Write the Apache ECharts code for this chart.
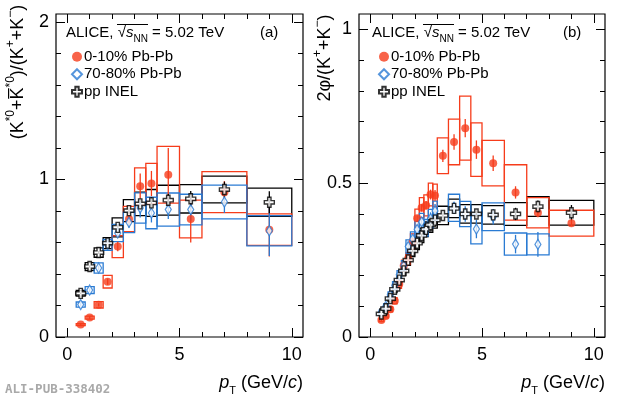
<!DOCTYPE html>
<html>
<head>
<meta charset="utf-8">
<script src="https://cdn.jsdelivr.net/npm/echarts@6/dist/echarts.min.js"></script>
<style>html,body{margin:0;padding:0;background:#fff}#main{width:620px;height:398px}</style>
</head>
<body>
<div id="main"></div>
<script>
// (a) K*0/K ratio, bins and points
const kstarEdges = [0.4, 0.8, 1.2, 1.6, 2.0, 2.5, 3.0, 3.5, 4.0, 5.0, 6.0, 8.0, 10.0];
const kstarPt = [0.6, 1.0, 1.4, 1.8, 2.25, 2.75, 3.25, 3.75, 4.5, 5.5, 7.0, 9.0];
const kstarCentral = [0.079, 0.123, 0.204, 0.351, 0.574, 0.749, 0.957, 0.974, 1.03, 0.749, 0.919, 0.681];
const kstarCentralStat = [0.005, 0.008, 0.010, 0.020, 0.030, 0.050, 0.080, 0.080, 0.170, 0.150, 0.070, 0.170];
const kstarCentralSys = [0.006, 0.010, 0.020, 0.040, 0.070, 0.080, 0.117, 0.128, 0.180, 0.120, 0.130, 0.100];
const kstarPeripheral = [0.206, 0.298, 0.438, 0.585, 0.660, 0.728, 0.819, 0.787, 0.809, 0.809, 0.857, 0.674];
const kstarPeripheralStat = [0.010, 0.012, 0.015, 0.020, 0.025, 0.035, 0.060, 0.060, 0.060, 0.070, 0.070, 0.160];
const kstarPeripheralSys = [0.016, 0.022, 0.032, 0.035, 0.055, 0.065, 0.096, 0.100, 0.105, 0.097, 0.107, 0.096];
const kstarPp = [0.277, 0.447, 0.536, 0.596, 0.696, 0.802, 0.845, 0.851, 0.868, 0.877, 0.936, 0.855];
const kstarPpStat = [0.005, 0.008, 0.010, 0.012, 0.015, 0.020, 0.030, 0.035, 0.040, 0.050, 0.050, 0.070];
const kstarPpSys = [0.018, 0.025, 0.030, 0.035, 0.060, 0.070, 0.075, 0.085, 0.095, 0.090, 0.085, 0.090];

// (b) phi/K ratio
const phiEdges = [0.4, 0.6, 0.8, 1.0, 1.2, 1.4, 1.6, 1.8, 2.0, 2.2, 2.4, 2.6, 2.8, 3.0, 3.5, 4.0, 4.5, 5.0, 6.0, 7.0, 8.0, 10.0];
const phiPtCentral = [0.5, 0.7, 0.9, 1.1, 1.3, 1.5, 1.7, 1.9, 2.1, 2.3, 2.5, 2.7, 2.9, 3.25, 3.75, 4.25, 4.75, 5.5, 6.5, 7.5, 9.0];
const phiCentral = [0.055, 0.068, 0.090, 0.118, 0.172, 0.232, 0.255, 0.310, 0.386, 0.420, 0.428, 0.463, 0.460, 0.589, 0.634, 0.679, 0.609, 0.565, 0.470, 0.404, 0.370];
const phiCentralStat = [0.003, 0.003, 0.004, 0.004, 0.005, 0.006, 0.007, 0.008, 0.010, 0.012, 0.014, 0.016, 0.018, 0.020, 0.025, 0.030, 0.030, 0.025, 0.020, 0.015, 0.010];
const phiCentralSys = [0.005, 0.006, 0.008, 0.010, 0.014, 0.018, 0.020, 0.025, 0.030, 0.033, 0.034, 0.037, 0.037, 0.058, 0.074, 0.104, 0.087, 0.074, 0.090, 0.049, 0.042];
const phiPtPeripheral = [0.5, 0.7, 0.9, 1.1, 1.3, 1.5, 1.7, 1.9, 2.1, 2.3, 2.5, 2.7, 2.9, 3.75, 4.25, 4.75, 5.5, 6.5, 7.5];
const phiPeripheral = [0.080, 0.100, 0.137, 0.168, 0.202, 0.232, 0.294, 0.318, 0.350, 0.374, 0.355, 0.385, 0.410, 0.420, 0.400, 0.351, 0.391, 0.302, 0.301];
const phiPeripheralStat = [0.004, 0.005, 0.006, 0.007, 0.008, 0.009, 0.010, 0.012, 0.014, 0.016, 0.018, 0.020, 0.022, 0.020, 0.025, 0.030, 0.025, 0.030, 0.040];
const phiPeripheralSys = [0.007, 0.008, 0.010, 0.012, 0.014, 0.016, 0.022, 0.024, 0.026, 0.028, 0.027, 0.030, 0.032, 0.044, 0.041, 0.048, 0.045, 0.036, 0.034];
const phiPtPp = [0.5, 0.7, 0.9, 1.1, 1.3, 1.5, 1.7, 1.9, 2.1, 2.3, 2.5, 2.7, 2.9, 3.25, 3.75, 4.25, 4.75, 5.5, 6.5, 7.5, 9.0];
const phiPp = [0.075, 0.092, 0.125, 0.155, 0.185, 0.215, 0.250, 0.280, 0.305, 0.330, 0.350, 0.365, 0.380, 0.395, 0.418, 0.400, 0.400, 0.397, 0.400, 0.424, 0.404];
const phiPpStat = [0.002, 0.002, 0.003, 0.003, 0.003, 0.004, 0.004, 0.005, 0.005, 0.006, 0.006, 0.007, 0.008, 0.010, 0.012, 0.012, 0.012, 0.015, 0.020, 0.020, 0.025];
const phiPpSys = [0.006, 0.007, 0.009, 0.011, 0.013, 0.015, 0.017, 0.019, 0.021, 0.023, 0.024, 0.025, 0.026, 0.030, 0.030, 0.030, 0.030, 0.030, 0.037, 0.032, 0.040];

// axis ticks
const xMajor = [0, 5, 10];
const xMinor = [1, 2, 3, 4, 6, 7, 8, 9];
const yMajorA = [0, 1, 2];
const yMinorA = [0.2, 0.4, 0.6, 0.8, 1.2, 1.4, 1.6, 1.8];
const yMajorB = [0, 0.5, 1];
const yMinorB = [0.1, 0.2, 0.3, 0.4, 0.6, 0.7, 0.8, 0.9];

const names = ['0-10% Pb-Pb', '70-80% Pb-Pb', 'pp INEL'];
const RED = '#f63c1b', BLUE = '#2a7bd3', BLACK = '#000';
const FONT = 'Liberation Sans';
const crossPath = 'path://M3,0 L6,0 L6,3 L9,3 L9,6 L6,6 L6,9 L3,9 L3,6 L0,6 L0,3 L3,3 Z';

var chart = echarts.init(document.getElementById('main'), null, { renderer: 'canvas' });

function xAxes(g) {
  var base = { gridIndex: g, type: 'value', min: -0.5, max: 10.5, axisLine: { show: false, onZero: false }, splitLine: { show: false } };
  function ax(pos, vals, len, lab) {
    return Object.assign({}, base, {
      position: pos,
      axisTick: { inside: true, length: len, customValues: vals, lineStyle: { color: '#000', width: 1 } },
      axisLabel: lab ? { customValues: vals, fontSize: 18, fontFamily: FONT, color: '#000', margin: 9 } : { show: false }
    });
  }
  return [ax('bottom', xMajor, 9, true), ax('bottom', xMinor, 5, false), ax('top', xMajor, 9, false), ax('top', xMinor, 5, false)];
}
function yAxes(g, max, major, minor) {
  var base = { gridIndex: g, type: 'value', min: 0, max: max, axisLine: { show: false, onZero: false }, splitLine: { show: false } };
  function ax(pos, vals, len, lab) {
    return Object.assign({}, base, {
      position: pos,
      axisTick: { inside: true, length: len, customValues: vals, lineStyle: { color: '#000', width: 1 } },
      axisLabel: lab ? { customValues: vals, fontSize: 18, fontFamily: FONT, color: '#000', margin: 7 } : { show: false }
    });
  }
  return [ax('left', major, 9, true), ax('left', minor, 5, false), ax('right', major, 9, false), ax('right', minor, 5, false)];
}

function binOf(edges, x) {
  for (var i = 0; i < edges.length - 1; i++) if (x >= edges[i] && x < edges[i + 1]) return [edges[i], edges[i + 1]];
  return [x - 0.1, x + 0.1];
}

function sysSeries(g, edges, pt, val, sys, color, z) {
  return {
    type: 'custom', xAxisIndex: g * 4, yAxisIndex: g * 4, z: z, silent: true,
    data: pt.map(function (x, i) { var b = binOf(edges, x); return [x, val[i], sys[i], b[0], b[1]]; }),
    encode: { x: 0, y: 1 },
    renderItem: function (params, api) {
      var a = api.coord([api.value(3), api.value(1) + api.value(2)]);
      var b = api.coord([api.value(4), api.value(1) - api.value(2)]);
      return { type: 'rect', shape: { x: a[0], y: a[1], width: b[0] - a[0], height: b[1] - a[1] },
        style: { fill: 'none', stroke: color, lineWidth: 1.3 } };
    }
  };
}
function statSeries(g, pt, val, err, color, z) {
  return {
    type: 'custom', xAxisIndex: g * 4, yAxisIndex: g * 4, z: z, silent: true,
    data: pt.map(function (x, i) { return [x, val[i], err[i]]; }),
    encode: { x: 0, y: 1 },
    renderItem: function (params, api) {
      var a = api.coord([api.value(0), api.value(1) + api.value(2)]);
      var b = api.coord([api.value(0), api.value(1) - api.value(2)]);
      return { type: 'line', shape: { x1: a[0], y1: a[1], x2: b[0], y2: b[1] },
        style: { stroke: color, lineWidth: 1.3 } };
    }
  };
}
function markerSeries(g, name, pt, val, z) {
  var s = { type: 'scatter', name: name, xAxisIndex: g * 4, yAxisIndex: g * 4, z: z,
    data: pt.map(function (x, i) { return [x, val[i]]; }) };
  if (name === names[0]) { s.symbol = 'circle'; s.symbolSize = 8; s.itemStyle = { color: RED }; }
  if (name === names[1]) { s.symbol = 'diamond'; s.symbolSize = [6, 10]; s.itemStyle = { color: '#fff', borderColor: BLUE, borderWidth: 1.3 }; }
  if (name === names[2]) { s.symbol = crossPath; s.symbolSize = 10; s.itemStyle = { color: '#fff', borderColor: BLACK, borderWidth: 1.4 }; }
  return s;
}

var series = [
  sysSeries(0, kstarEdges, kstarPt, kstarPp, kstarPpSys, BLACK, 1),
  sysSeries(0, kstarEdges, kstarPt, kstarCentral, kstarCentralSys, RED, 1),
  sysSeries(0, kstarEdges, kstarPt, kstarPeripheral, kstarPeripheralSys, BLUE, 1),
  statSeries(0, kstarPt, kstarCentral, kstarCentralStat, RED, 2),
  statSeries(0, kstarPt, kstarPeripheral, kstarPeripheralStat, BLUE, 2),
  statSeries(0, kstarPt, kstarPp, kstarPpStat, BLACK, 2),
  markerSeries(0, names[0], kstarPt, kstarCentral, 3),
  markerSeries(0, names[1], kstarPt, kstarPeripheral, 4),
  markerSeries(0, names[2], kstarPt, kstarPp, 5),

  sysSeries(1, phiEdges, phiPtPp, phiPp, phiPpSys, BLACK, 1),
  sysSeries(1, phiEdges, phiPtCentral, phiCentral, phiCentralSys, RED, 1),
  sysSeries(1, phiEdges, phiPtPeripheral, phiPeripheral, phiPeripheralSys, BLUE, 1),
  statSeries(1, phiPtCentral, phiCentral, phiCentralStat, RED, 2),
  statSeries(1, phiPtPeripheral, phiPeripheral, phiPeripheralStat, BLUE, 2),
  statSeries(1, phiPtPp, phiPp, phiPpStat, BLACK, 2),
  markerSeries(1, names[0], phiPtCentral, phiCentral, 3),
  markerSeries(1, names[1], phiPtPeripheral, phiPeripheral, 4),
  markerSeries(1, names[2], phiPtPp, phiPp, 5)
];

var legendBase = { orient: 'vertical', itemWidth: 10, itemHeight: 10, itemGap: 2, selectedMode: false,
  textStyle: { fontSize: 15, fontFamily: FONT, color: '#000', lineHeight: 15.5, padding: [0, 0, 0, -3] }, data: names };

var richBase = {
  sup: { fontSize: 12, fontFamily: FONT, verticalAlign: 'top', lineHeight: 12 },
  sub: { fontSize: 11, fontFamily: FONT, verticalAlign: 'bottom', lineHeight: 11 },
  i: { fontStyle: 'italic', fontFamily: FONT, fontSize: 18 },
  si: { fontStyle: 'italic', fontFamily: FONT, fontSize: 15 },
  ssub: { fontSize: 10, fontFamily: FONT, verticalAlign: 'bottom', lineHeight: 10 }
};
function txt(x, y, text, size, opts) {
  return Object.assign({ type: 'text', x: x, y: y, silent: true,
    style: Object.assign({ text: text, fontSize: size, fontFamily: FONT, fill: '#000', rich: richBase,
      lineHeight: size + 8 }, opts || {}) });
}
// overline of the square root in the headers
function rootBar(x) {
  return { type: 'line', silent: true, shape: { x1: x, y1: 24.5, x2: x + 31, y2: 24.5 }, style: { stroke: '#000', lineWidth: 1 } };
}

chart.setOption({
  animation: false,
  grid: [
    { left: 56, right: 317, top: 14, bottom: 61, show: true, borderColor: '#000', borderWidth: 1.2 },
    { left: 359, right: 15, top: 14, bottom: 61, show: true, borderColor: '#000', borderWidth: 1.2 }
  ],
  xAxis: xAxes(0).concat(xAxes(1)),
  yAxis: yAxes(0, 2.05, yMajorA, yMinorA).concat(yAxes(1, 1.05, yMajorB, yMinorB)),
  legend: [
    Object.assign({ left: 66, top: 44 }, legendBase),
    Object.assign({ left: 373, top: 44 }, legendBase)
  ],
  series: series,
  graphic: [
    txt(66, 33, 'ALICE, √{si|s}{ssub|NN} = 5.02 TeV', 15, { verticalAlign: 'middle' }),
    txt(260, 33, '(a)', 15, { verticalAlign: 'middle' }),
    txt(372, 33, 'ALICE, √{si|s}{ssub|NN} = 5.02 TeV', 15, { verticalAlign: 'middle' }),
    txt(563, 33, '(b)', 15, { verticalAlign: 'middle' }),
    rootBar(117), rootBar(423),
    Object.assign(txt(18, 72, '(K{sup|*0}+K\u0305{sup|*0})/(K{sup|+}+K{sup|\u2212})', 18, { align: 'center', verticalAlign: 'middle' }), { rotation: Math.PI / 2 }),
    Object.assign(txt(325, 58, '2φ/(K{sup|+}+K{sup|\u2212})', 18, { align: 'center', verticalAlign: 'middle' }), { rotation: Math.PI / 2 }),
    txt(303, 383, '{i|p}{sub|T} (GeV/{i|c})', 18, { align: 'right', verticalAlign: 'middle' }),
    txt(605, 383, '{i|p}{sub|T} (GeV/{i|c})', 18, { align: 'right', verticalAlign: 'middle' }),
    txt(5, 390, 'ALI-PUB-338402', 12.5, { fontFamily: 'DejaVu Sans Mono', fontWeight: 'bold', fill: '#a9a9a9', verticalAlign: 'middle', lineHeight: 14 })
  ]
});
</script>
</body>
</html>
